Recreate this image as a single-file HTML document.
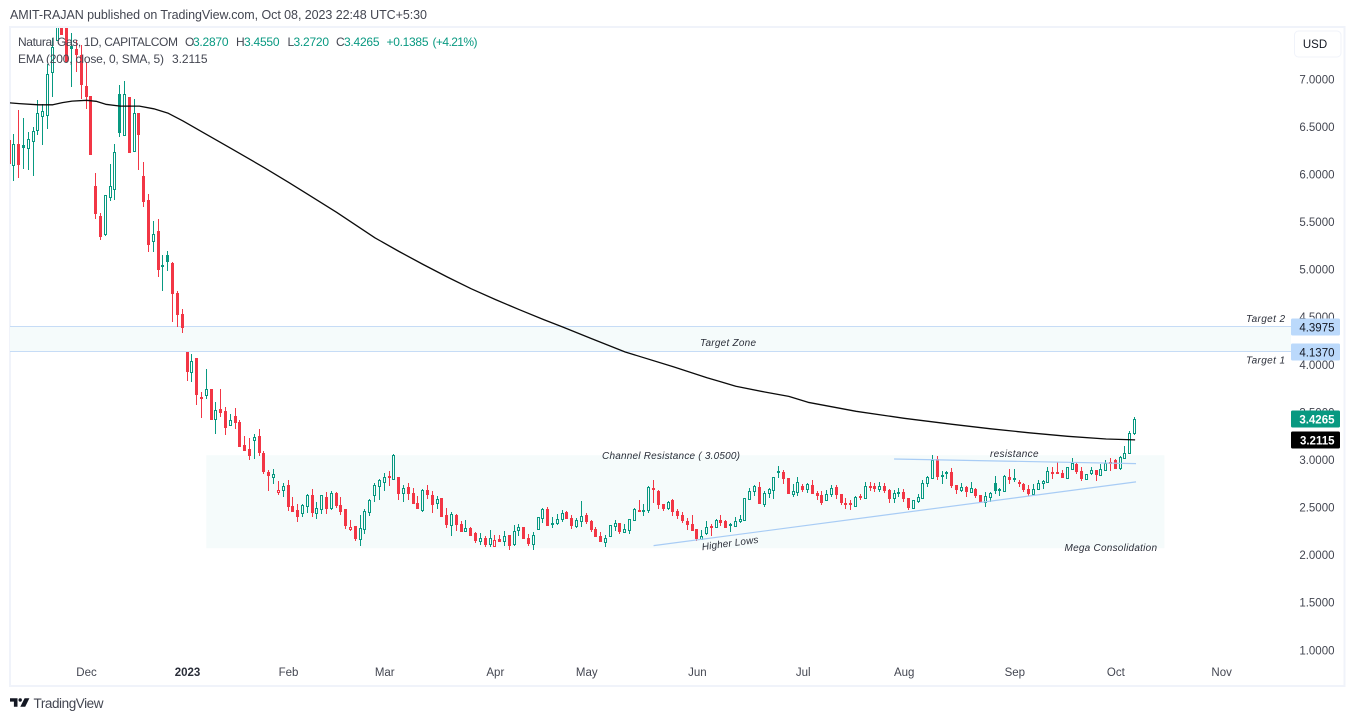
<!DOCTYPE html>
<html lang="en">
<head>
<meta charset="utf-8">
<title>Natural Gas, 1D, CAPITALCOM</title>
<style>
html,body{margin:0;padding:0;background:#fff;width:1355px;height:721px;overflow:hidden}
svg{display:block;font-family:"Liberation Sans",sans-serif}
.ann{font-size:10px;font-style:italic;fill:#2a2e39}
.leg{font-size:12px;fill:#434651}
.val{font-size:12px;fill:#089981}
.ax{font-size:11.5px;fill:#434651}
</style>
</head>
<body>
<svg id="root" xmlns="http://www.w3.org/2000/svg" width="1355" height="721" viewBox="0 0 1355 721">
  <defs>
    <clipPath id="plot-clip"><rect x="10" y="28" width="1281" height="657"></rect></clipPath>
  </defs>
  <rect x="0" y="0" width="1355" height="721" fill="#ffffff"></rect>
  <text x="10" y="19" font-size="12.5" fill="#434651" textLength="417">AMIT-RAJAN published on TradingView.com, Oct 08, 2023 22:48 UTC+5:30</text>
  <g fill="#f0f3fa">
    <rect x="9" y="26" width="1336.5" height="2"></rect>
    <rect x="9" y="685" width="1336.5" height="2"></rect>
    <rect x="9" y="26" width="2" height="661"></rect>
    <rect x="1343.5" y="26" width="2" height="661"></rect>
  </g>
  <g id="zones" clip-path="url(#plot-clip)"></g>
  <g id="candles" clip-path="url(#plot-clip)"></g>
  <path id="ema" fill="none" stroke="#0b0b0b" stroke-width="1.3" stroke-linejoin="round" clip-path="url(#plot-clip)"></path>
  <g id="trendlines"></g>

  <text class="ann" x="700" y="346" textLength="56">Target Zone</text>
  <text class="ann" x="602" y="459" textLength="138">Channel Resistance ( 3.0500)</text>
  <text class="ann" x="990" y="457" textLength="48.5">resistance</text>
  <text class="ann" x="1064.5" y="551" textLength="92.5">Mega Consolidation</text>
  <text class="ann" x="1246" y="322" textLength="39">Target 2</text>
  <text class="ann" x="1246" y="363.5" textLength="39">Target 1</text>
  <text class="ann" x="730" y="546.5" text-anchor="middle" textLength="57" transform="rotate(-7.5 730 543)">Higher Lows</text>

  <g>
    <text class="leg" x="18" y="46" textLength="160">Natural Gas, 1D, CAPITALCOM</text>
    <text class="leg" x="185" y="46">O</text>
    <text class="val" x="193" y="46" textLength="35.5">3.2870</text>
    <text class="leg" x="236" y="46">H</text>
    <text class="val" x="244" y="46" textLength="35.5">3.4550</text>
    <text class="leg" x="287.5" y="46">L</text>
    <text class="val" x="293.5" y="46" textLength="35.5">3.2720</text>
    <text class="leg" x="336" y="46">C</text>
    <text class="val" x="344" y="46" textLength="35.5">3.4265</text>
    <text class="val" x="386.5" y="46" textLength="42">+0.1385</text>
    <text class="val" x="432.5" y="46" textLength="45">(+4.21%)</text>
    <text class="leg" x="18" y="63" textLength="146">EMA (200, close, 0, SMA, 5)</text>
    <text class="leg" x="172" y="63" textLength="35.5">3.2115</text>
  </g>

  <g id="yaxis"></g>
  <g id="xaxis"></g>
  <g id="tags"></g>

  <g>
    <rect x="1294.5" y="31" width="46.5" height="26" rx="4" fill="#fff" stroke="#f0f3fa"></rect>
    <text x="1315" y="48" font-size="11.5" text-anchor="middle" fill="#131722">USD</text>
  </g>

  <g>
    <path fill="#131722" d="M10 698.3h7.5v8.4h-3.6v-5.1H10z"></path>
    <circle cx="20.2" cy="700" r="1.7" fill="#131722"></circle>
    <path fill="#131722" d="M24.6 698.3h4.8l-4.2 8.4h-4.9z"></path>
    <text x="33.5" y="708" font-size="13.5" fill="#434651" textLength="70">TradingView</text>
  </g>

<script>
// ---- chart data ----
const opens = [
6.366,6.104,6.317,6.314,6.278,6.352,6.471,6.619,6.629,7.081,
7.410,7.672,7.567,7.350,7.323,7.252,6.926,6.821,5.876,5.560,
5.371,5.763,5.847,6.850,6.415,6.814,6.247,6.650,5.988,5.729,
5.301,5.403,5.046,5.151,5.070,4.751,4.531,4.137,3.925,4.068,
3.659,3.683,3.743,3.431,3.532,3.512,3.368,3.459,3.396,3.154,
3.112,3.210,3.249,3.070,2.871,2.821,2.660,2.689,2.734,2.513,
2.472,2.440,2.517,2.629,2.440,2.485,2.608,2.492,2.650,2.524,
2.482,2.275,2.303,2.174,2.279,2.454,2.632,2.727,2.769,2.829,
2.800,2.818,2.657,2.713,2.650,2.545,2.472,2.682,2.636,2.548,
2.597,2.419,2.314,2.422,2.324,2.254,2.282,2.230,2.149,2.185,
2.114,2.093,2.167,2.153,2.209,2.114,2.269,2.293,2.177,2.114,
2.279,2.391,2.482,2.335,2.335,2.377,2.450,2.387,2.303,2.359,
2.419,2.356,2.272,2.198,2.135,2.201,2.303,2.335,2.248,2.269,
2.366,2.472,2.479,2.472,2.703,2.671,2.534,2.492,2.577,2.461,
2.419,2.356,2.324,2.272,2.174,2.230,2.303,2.296,2.366,2.356,
2.328,2.303,2.356,2.370,2.587,2.671,2.713,2.534,2.653,2.689,
2.881,2.871,2.808,2.643,2.660,2.724,2.692,2.734,2.650,2.629,
2.584,2.640,2.713,2.640,2.548,2.545,2.513,2.619,2.598,2.724,
2.724,2.692,2.724,2.682,2.598,2.668,2.660,2.598,2.492,2.566,
2.601,2.763,2.815,3.007,2.839,2.871,2.871,2.737,2.682,2.713,
2.660,2.695,2.629,2.559,2.615,2.755,2.692,2.678,2.826,2.808,
2.766,2.745,2.692,2.640,2.692,2.763,2.769,2.878,2.871,2.860,
2.808,2.902,2.955,2.881,2.797,2.860,2.892,2.847,2.895,2.976,
2.997,2.913,3.021,3.070,3.287];
const highs = [
6.366,6.429,6.674,6.598,6.446,6.499,6.787,6.737,7.165,7.438,
7.830,7.800,7.700,7.483,7.410,7.357,7.182,6.821,6.020,5.592,
5.781,6.107,6.317,6.944,6.979,6.814,6.797,6.650,6.135,5.799,
5.511,5.536,5.151,5.193,5.077,4.772,4.583,4.137,4.110,4.068,
3.711,3.953,3.743,3.606,3.743,3.554,3.480,3.543,3.417,3.249,
3.228,3.270,3.322,3.091,2.892,2.902,2.776,2.755,2.787,2.608,
2.534,2.534,2.640,2.692,2.555,2.629,2.660,2.671,2.660,2.611,
2.482,2.366,2.303,2.419,2.482,2.587,2.755,2.797,2.860,2.881,
3.060,2.818,2.734,2.755,2.703,2.619,2.692,2.734,2.671,2.619,
2.597,2.492,2.450,2.429,2.356,2.366,2.293,2.240,2.230,2.198,
2.261,2.209,2.209,2.251,2.209,2.314,2.324,2.293,2.219,2.240,
2.405,2.492,2.503,2.398,2.429,2.472,2.461,2.419,2.387,2.566,
2.440,2.366,2.293,2.240,2.209,2.321,2.366,2.335,2.324,2.377,
2.492,2.577,2.534,2.724,2.787,2.682,2.534,2.566,2.587,2.482,
2.450,2.387,2.419,2.272,2.261,2.356,2.324,2.377,2.419,2.366,
2.335,2.398,2.419,2.597,2.703,2.734,2.766,2.671,2.703,2.818,
2.934,2.892,2.808,2.745,2.818,2.745,2.755,2.787,2.671,2.671,
2.682,2.734,2.734,2.640,2.598,2.577,2.619,2.640,2.766,2.766,
2.755,2.766,2.755,2.692,2.682,2.703,2.692,2.598,2.577,2.640,
2.787,2.829,3.049,3.039,2.881,2.881,2.913,2.737,2.755,2.724,
2.766,2.703,2.629,2.660,2.660,2.829,2.703,2.839,2.902,2.902,
2.787,2.755,2.734,2.745,2.787,2.787,2.923,2.923,2.976,2.892,
2.923,3.018,2.965,2.923,2.850,2.923,2.892,2.955,2.997,3.018,
3.007,3.039,3.144,3.301,3.455];
const lows = [
6.114,5.939,5.973,6.068,6.062,5.999,6.429,6.320,6.488,6.824,
7.410,7.462,7.179,6.930,7.087,6.803,6.698,6.205,5.543,5.319,
5.361,5.736,5.746,6.401,6.415,6.226,6.247,6.058,5.666,5.193,
5.196,4.930,4.783,4.993,4.457,4.405,4.342,3.837,3.827,3.585,
3.449,3.651,3.417,3.280,3.459,3.270,3.365,3.333,3.133,3.091,
3.007,3.018,3.049,2.860,2.682,2.755,2.640,2.619,2.472,2.450,
2.356,2.408,2.450,2.408,2.387,2.440,2.440,2.482,2.503,2.429,
2.282,2.261,2.156,2.104,2.230,2.419,2.566,2.587,2.682,2.734,
2.797,2.587,2.566,2.587,2.534,2.482,2.461,2.598,2.450,2.492,
2.398,2.293,2.209,2.261,2.240,2.251,2.198,2.135,2.114,2.093,
2.093,2.093,2.135,2.104,2.062,2.104,2.209,2.167,2.104,2.062,
2.279,2.345,2.303,2.293,2.324,2.356,2.377,2.282,2.293,2.303,
2.335,2.251,2.188,2.135,2.093,2.201,2.261,2.230,2.240,2.230,
2.366,2.450,2.419,2.450,2.555,2.492,2.472,2.482,2.419,2.387,
2.345,2.272,2.251,2.156,2.167,2.219,2.209,2.293,2.314,2.282,
2.251,2.303,2.345,2.370,2.587,2.629,2.534,2.513,2.608,2.598,
2.818,2.755,2.640,2.619,2.629,2.671,2.660,2.640,2.587,2.534,
2.577,2.619,2.598,2.534,2.492,2.482,2.513,2.587,2.598,2.682,
2.671,2.671,2.660,2.555,2.555,2.619,2.566,2.482,2.492,2.555,
2.598,2.724,2.808,2.797,2.755,2.808,2.713,2.650,2.671,2.619,
2.660,2.608,2.559,2.513,2.566,2.650,2.629,2.671,2.755,2.776,
2.724,2.671,2.629,2.629,2.692,2.703,2.766,2.808,2.860,2.808,
2.808,2.902,2.860,2.787,2.797,2.850,2.787,2.839,2.892,2.892,
2.902,2.902,3.018,3.070,3.272];
const closes = [
6.114,6.324,6.100,6.278,6.377,6.461,6.650,6.671,7.060,7.339,
7.725,7.462,7.179,7.315,7.252,6.937,6.814,6.205,5.581,5.340,
5.781,5.876,6.240,6.436,6.850,6.226,6.650,6.415,5.711,5.256,
5.379,4.993,5.028,5.080,4.741,4.520,4.384,3.921,4.044,3.680,
3.648,3.750,3.417,3.529,3.491,3.333,3.424,3.386,3.133,3.091,
3.039,3.246,3.070,2.871,2.829,2.857,2.689,2.731,2.503,2.450,
2.398,2.524,2.629,2.440,2.492,2.629,2.482,2.650,2.513,2.450,
2.303,2.300,2.167,2.290,2.461,2.584,2.734,2.787,2.826,2.811,
3.049,2.640,2.710,2.640,2.534,2.482,2.689,2.629,2.524,2.594,
2.405,2.314,2.429,2.314,2.240,2.290,2.198,2.146,2.185,2.104,
2.185,2.163,2.135,2.206,2.093,2.258,2.300,2.167,2.114,2.216,
2.405,2.485,2.303,2.317,2.377,2.447,2.377,2.303,2.366,2.416,
2.345,2.261,2.188,2.135,2.177,2.321,2.335,2.240,2.272,2.377,
2.482,2.458,2.461,2.713,2.682,2.524,2.482,2.563,2.450,2.408,
2.356,2.314,2.251,2.174,2.206,2.300,2.293,2.366,2.335,2.282,
2.303,2.362,2.384,2.597,2.671,2.724,2.538,2.650,2.692,2.818,
2.868,2.797,2.640,2.671,2.773,2.682,2.745,2.640,2.619,2.545,
2.647,2.710,2.629,2.545,2.541,2.534,2.608,2.598,2.724,2.703,
2.692,2.724,2.671,2.587,2.650,2.657,2.587,2.492,2.577,2.608,
2.763,2.821,3.004,2.818,2.821,2.857,2.724,2.682,2.713,2.660,
2.703,2.619,2.559,2.619,2.657,2.671,2.674,2.829,2.787,2.790,
2.745,2.682,2.640,2.699,2.755,2.776,2.881,2.863,2.860,2.808,
2.923,2.973,2.871,2.797,2.850,2.892,2.839,2.902,2.965,2.958,
2.902,3.028,3.078,3.288,3.4265];
const emaBars = [0,2,6,9,11,13,16,18,20,23,27,30,33,36,40,46,53,58,62,68,76,81,86,91,96,101,106,111,115,121,128,138,145,151,157,162,166,176,186,196,204,212,220,228,234];
const emaValues = [6.753,6.745,6.732,6.732,6.755,6.771,6.779,6.769,6.737,6.718,6.718,6.690,6.643,6.564,6.448,6.275,6.070,5.918,5.792,5.603,5.334,5.191,5.054,4.923,4.799,4.686,4.579,4.476,4.397,4.275,4.135,3.980,3.865,3.775,3.714,3.668,3.606,3.512,3.438,3.375,3.328,3.286,3.249,3.220,3.2115];
const priceTicks = [7,6.5,6,5.5,5,4.5,4,3.5,3,2.5,2,1.5,1];
const monthLabels = ["Dec","2023","Feb","Mar","Apr","May","Jun","Jul","Aug","Sep","Oct","Nov"];
const monthBars = [16,37,58,78,101,120,143,165,186,209,230,252];
const targetTop = 4.3975;
const targetBottom = 4.137;
const channelTop = 3.05;
const channelBottom = 2.073;
const channelStartBar = 41;
const channelEndBar = 240.2;
const higherLowsBars = [134,234.3];
const higherLowsPrices = [2.10,2.77];
const resistanceBars = [184,234.3];
const resistancePrices = [3.01,2.962];
const lastPrice = 3.4265;
const lastEma = 3.2115;

// ---- axis functions ----
const xScale = i => 9.04 + 4.81 * i;
const yScale = p => 79.3 + (7 - p) * 95.17;

const NS = 'http://www.w3.org/2000/svg';
function make(tag, parent, attrs) {
  const el = document.createElementNS(NS, tag);
  for (const k in attrs) el.setAttribute(k, attrs[k]);
  parent.appendChild(el);
  return el;
}

// zones
const zones = document.getElementById('zones');
const consolidation = make('rect', zones, {x: xScale(channelStartBar), y: yScale(channelTop), width: xScale(channelEndBar) - xScale(channelStartBar), height: yScale(channelBottom) - yScale(channelTop), fill: '#f5fbfb'});


const target = make('rect', zones, {x: 10, y: yScale(targetTop), width: 1281, height: yScale(targetBottom) - yScale(targetTop), fill: '#f5fbfb'});


const targetLineTop = make('rect', zones, {x: 10, y: Math.floor(yScale(targetTop)), width: 1281, height: 1, fill: '#c6dcf6'});


const targetLineBottom = make('rect', zones, {x: 10, y: Math.floor(yScale(targetBottom)), width: 1281, height: 1, fill: '#c6dcf6'});



// candles (hollow style: hollow when close > open, colour from close vs previous close)
const candles = document.getElementById('candles');
const TEAL = '#089981', RED = '#f23645';
opens.forEach((o, i) => {
  const c = closes[i];
  const prev = i ? closes[i - 1] : o;
  const color = c >= prev ? TEAL : RED;
  const col = Math.floor(xScale(i));
  const yO = Math.round(yScale(o)), yC = Math.round(yScale(c));
  const yH = Math.round(yScale(highs[i])), yL = Math.round(yScale(lows[i]));
  const top = Math.min(yO, yC), bot = Math.max(yO, yC);
  const g = make('g', candles, {});
  
  
  if (yH < top) make('rect', g, {x: col, y: yH, width: 1, height: top - yH, fill: color});
  if (yL > bot) make('rect', g, {x: col, y: bot, width: 1, height: yL - bot + 1, fill: color});
  if (c > o) {
    make('rect', g, {x: col - 0.5, y: top + 0.5, width: 2, height: Math.max(bot - top, 1), fill: 'none', stroke: color, 'stroke-width': 1});
  } else {
    make('rect', g, {x: col - 1, y: top, width: 3, height: Math.max(bot - top, 2), fill: color});
  }
});

// EMA line
document.getElementById('ema').setAttribute('d', emaBars.map((b, k) => (k ? 'L' : 'M') + (xScale(b) + 0.5).toFixed(1) + ' ' + yScale(emaValues[k]).toFixed(1)).join(' '));

// trendlines
const trend = document.getElementById('trendlines');
const hl = make('line', trend, {x1: xScale(higherLowsBars[0]), y1: yScale(higherLowsPrices[0]), x2: xScale(higherLowsBars[1]), y2: yScale(higherLowsPrices[1]), stroke: '#a8ccf5', 'stroke-width': 1.2});


const rs = make('line', trend, {x1: xScale(resistanceBars[0]), y1: yScale(resistancePrices[0]), x2: xScale(resistanceBars[1]), y2: yScale(resistancePrices[1]), stroke: '#a8ccf5', 'stroke-width': 1.2});



// price axis
const yaxis = document.getElementById('yaxis');
priceTicks.forEach(p => {
  const t = make('text', yaxis, {x: 1334.5, y: yScale(p) + 4, 'text-anchor': 'end', class: 'ax'});
  t.textContent = p.toFixed(4);
  
  
});

// time axis
const xaxis = document.getElementById('xaxis');
monthLabels.forEach((m, k) => {
  const t = make('text', xaxis, {x: xScale(monthBars[k]) + 0.5, y: 676, 'text-anchor': 'middle', class: 'ax'});
  t.textContent = m;
  if (m === '2023') { t.setAttribute('font-weight', 'bold'); t.style.fill = '#2a2e39'; }
  
  
});

// price tags
const tags = document.getElementById('tags');
function tag(price, bg, fg, bold) {
  const y = Math.round(yScale(price)) - 8.5;
  const g = make('g', tags, {});
  make('rect', g, {x: 1291, y: y, width: 49, height: 17, rx: 1.5, fill: bg});
  const t = make('text', g, {x: 1334.5, y: y + 12.8, 'text-anchor': 'end', 'font-size': 11.5, fill: fg, 'font-weight': bold ? 'bold' : 'normal'});
  t.textContent = price.toFixed(4);
  return g;
}
const tagTarget2 = tag(targetTop, '#bbd9fb', '#131722', false);


const tagTarget1 = tag(targetBottom, '#bbd9fb', '#131722', false);


const tagLast = tag(lastPrice, '#089981', '#ffffff', true);


const tagEma = tag(lastEma, '#000000', '#ffffff', true);


</script>
</svg>
</body>
</html>
